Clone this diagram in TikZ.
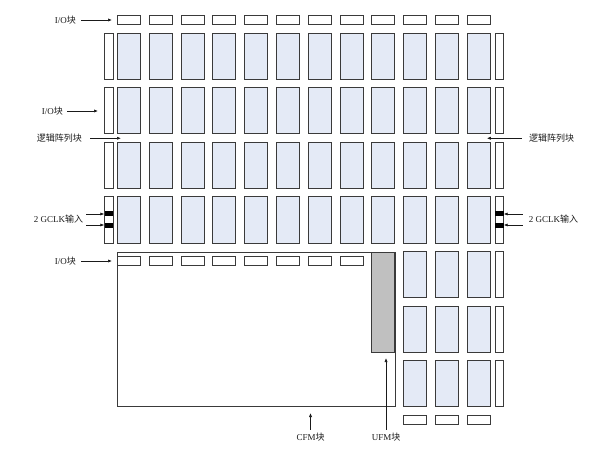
\documentclass[tikz,border=0pt]{standalone}
\usepackage{fontspec}
\setmainfont{Liberation Serif}
\newfontfamily\cjk{Noto Sans CJK SC}
\usetikzlibrary{arrows.meta,calc,positioning}
\definecolor{labBlue}{HTML}{E4EAF6}
\definecolor{edgeGray}{HTML}{3A3A3A}
\definecolor{ufmGray}{HTML}{C0C0C0}
\definecolor{ink}{HTML}{1A1A1A}
\tikzset{
  every node/.style={text=ink},
  lab block/.style={draw=edgeGray,fill=labBlue,line width=1pt,
    minimum width=23pt,minimum height=46pt,inner sep=0pt,anchor=north west},
  io hblock/.style={draw=edgeGray,fill=white,line width=1pt,
    minimum width=23pt,minimum height=9pt,inner sep=0pt,anchor=north west},
  io vblock/.style={draw=edgeGray,fill=white,line width=1pt,
    minimum width=8.5pt,minimum height=46pt,inner sep=0pt,anchor=north west},
  memory box/.style={draw=edgeGray,line width=1pt,inner sep=0pt,anchor=north west},
  clk pin/.style={fill=black,minimum width=8.5pt,minimum height=5pt,inner sep=0pt},
  pin arrow/.style={-{Latex[length=4pt,width=3.2pt]},line width=0.7pt,draw=ink},
  label text/.style={font=\fontsize{9}{10}\selectfont,inner sep=1pt},
}
\begin{document}
\begin{tikzpicture}[x=1pt,y=-1pt]
  \useasboundingbox (0,0) rectangle (596,454);

  % CFM and UFM
  \node[memory box,fill=white,minimum width=278pt,minimum height=154pt] (cfm) at (117,252) {};
  \node[memory box,fill=ufmGray,minimum width=23pt,minimum height=100pt] (ufm) at (371.4,252) {};

  % logic array blocks
  \foreach \r in {1,...,4} {
    \foreach \c in {1,...,12} {
      \pgfmathsetmacro\xx{117+31.8*(\c-1)}
      \pgfmathsetmacro\yy{33+54.5*(\r-1)}
      \node[lab block] (lab-\r-\c) at (\xx,\yy) {};
    }
  }
  \foreach \r in {5,6,7} {
    \foreach \c in {10,11,12} {
      \pgfmathsetmacro\xx{117+31.8*(\c-1)}
      \pgfmathsetmacro\yy{33+54.5*(\r-1)}
      \node[lab block] (lab-\r-\c) at (\xx,\yy) {};
    }
  }

  % I/O blocks
  \foreach \c in {1,...,12} {
    \pgfmathsetmacro\xx{117+31.8*(\c-1)}
    \node[io hblock] (io-t-\c) at (\xx,15) {};
  }
  \foreach \c in {1,...,8} {
    \pgfmathsetmacro\xx{117+31.8*(\c-1)}
    \node[io hblock] (io-c-\c) at (\xx,256) {};
  }
  \foreach \c in {10,11,12} {
    \pgfmathsetmacro\xx{117+31.8*(\c-1)}
    \node[io hblock] (io-b-\c) at (\xx,415) {};
  }
  \foreach \r in {1,...,4} {
    \pgfmathsetmacro\yy{33+54.5*(\r-1)}
    \node[io vblock] (io-l-\r) at (104,\yy) {};
  }
  \foreach \r in {1,...,7} {
    \pgfmathsetmacro\yy{33+54.5*(\r-1)}
    \node[io vblock] (io-r-\r) at (494.5,\yy) {};
  }

  % clock pins
  \node[clk pin] (clk-l-1) at ([yshift=6pt]io-l-4.center) {};
  \node[clk pin] (clk-l-2) at ([yshift=-5pt]io-l-4.center) {};
  \node[clk pin] (clk-r-1) at ([yshift=6pt]io-r-4.center) {};
  \node[clk pin] (clk-r-2) at ([yshift=-5pt]io-r-4.center) {};

  \coordinate (gap-l) at ($(lab-2-1.south west)!0.5!(lab-3-1.north west)$);
  \coordinate (gap-r) at ($(lab-2-12.south east)!0.5!(lab-3-12.north east)$);
  \coordinate (clk-l) at ($(clk-l-1.west)!0.5!(clk-l-2.west)$);
  \coordinate (clk-r) at ($(clk-r-1.east)!0.5!(clk-r-2.east)$);

  % labels
  \node[label text,left=40pt of io-t-1] (io-lbl-top) {I/O{\cjk 块}};
  \node[label text,left=40pt of io-l-2] (io-lbl-side) {I/O{\cjk 块}};
  \node[label text,left=34pt of gap-l] (lab-lbl-l) {{\cjk 逻辑阵列块}};
  \node[label text,right=37pt of gap-r] (lab-lbl-r) {{\cjk 逻辑阵列块}};
  \node[label text,left=20pt of clk-l] (clk-lbl-l) {2 GCLK{\cjk 输入}};
  \node[label text,right=24pt of clk-r] (clk-lbl-r) {2 GCLK{\cjk 输入}};
  \node[label text,left=40pt of io-c-1] (io-lbl-cfm) {I/O{\cjk 块}};
  \node[label text] (cfm-lbl) at (310.5,437) {CFM{\cjk 块}};
  \node[label text] (ufm-lbl) at (386,437) {UFM{\cjk 块}};

  % arrows
  \draw[pin arrow] ([xshift=4pt]io-lbl-top.east) -- ([xshift=-5pt]io-t-1.west);
  \draw[pin arrow] ([xshift=3pt]io-lbl-side.east) -- ([xshift=-6pt]io-l-2.west);
  \draw[pin arrow] ([xshift=7pt]lab-lbl-l.east) -- ([xshift=4pt]gap-l);
  \draw[pin arrow] ([xshift=-6pt]lab-lbl-r.west) -- ([xshift=-4pt]gap-r);
  \draw[pin arrow] ([xshift=2pt]clk-lbl-l.east |- clk-l-1) -- (clk-l-1.west);
  \draw[pin arrow] ([xshift=2pt]clk-lbl-l.east |- clk-l-2) -- (clk-l-2.west);
  \draw[pin arrow] ([xshift=-5pt]clk-lbl-r.west |- clk-r-1) -- (clk-r-1.east);
  \draw[pin arrow] ([xshift=-5pt]clk-lbl-r.west |- clk-r-2) -- (clk-r-2.east);
  \draw[pin arrow] ([xshift=4pt]io-lbl-cfm.east) -- ([xshift=-5pt]io-c-1.west);
  \draw[pin arrow] ([yshift=2pt]cfm-lbl.north) -- ([yshift=-6pt]cfm-lbl.north |- cfm.south);
  \draw[pin arrow] ([yshift=2pt]ufm-lbl.north) -- ([yshift=-5pt]ufm-lbl.north |- ufm.south);
\end{tikzpicture}
\end{document}
